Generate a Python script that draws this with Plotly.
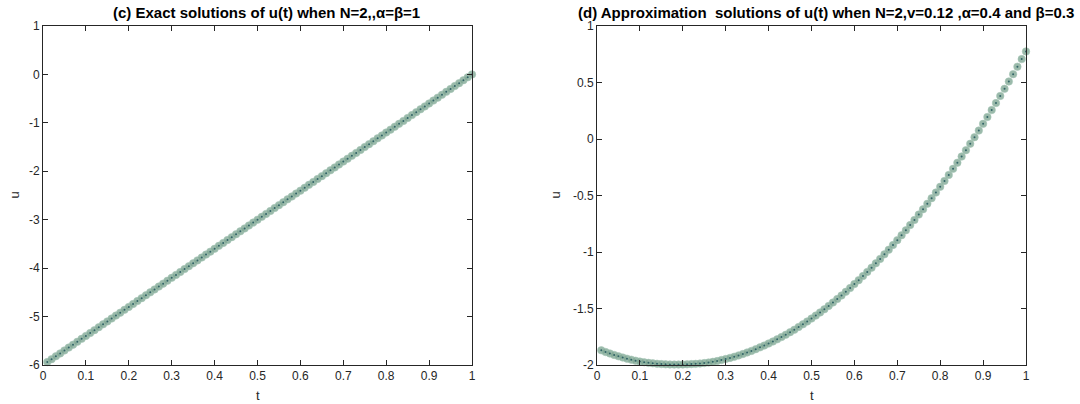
import plotly.graph_objects as go

t_values = [0.01, 0.02, 0.03, 0.04, 0.05, 0.06, 0.07, 0.08, 0.09, 0.10,
            0.11, 0.12, 0.13, 0.14, 0.15, 0.16, 0.17, 0.18, 0.19, 0.20,
            0.21, 0.22, 0.23, 0.24, 0.25, 0.26, 0.27, 0.28, 0.29, 0.30,
            0.31, 0.32, 0.33, 0.34, 0.35, 0.36, 0.37, 0.38, 0.39, 0.40,
            0.41, 0.42, 0.43, 0.44, 0.45, 0.46, 0.47, 0.48, 0.49, 0.50,
            0.51, 0.52, 0.53, 0.54, 0.55, 0.56, 0.57, 0.58, 0.59, 0.60,
            0.61, 0.62, 0.63, 0.64, 0.65, 0.66, 0.67, 0.68, 0.69, 0.70,
            0.71, 0.72, 0.73, 0.74, 0.75, 0.76, 0.77, 0.78, 0.79, 0.80,
            0.81, 0.82, 0.83, 0.84, 0.85, 0.86, 0.87, 0.88, 0.89, 0.90,
            0.91, 0.92, 0.93, 0.94, 0.95, 0.96, 0.97, 0.98, 0.99, 1.00]

u_exact = [-5.94, -5.88, -5.82, -5.76, -5.70, -5.64, -5.58, -5.52, -5.46, -5.40,
           -5.34, -5.28, -5.22, -5.16, -5.10, -5.04, -4.98, -4.92, -4.86, -4.80,
           -4.74, -4.68, -4.62, -4.56, -4.50, -4.44, -4.38, -4.32, -4.26, -4.20,
           -4.14, -4.08, -4.02, -3.96, -3.90, -3.84, -3.78, -3.72, -3.66, -3.60,
           -3.54, -3.48, -3.42, -3.36, -3.30, -3.24, -3.18, -3.12, -3.06, -3.00,
           -2.94, -2.88, -2.82, -2.76, -2.70, -2.64, -2.58, -2.52, -2.46, -2.40,
           -2.34, -2.28, -2.22, -2.16, -2.10, -2.04, -1.98, -1.92, -1.86, -1.80,
           -1.74, -1.68, -1.62, -1.56, -1.50, -1.44, -1.38, -1.32, -1.26, -1.20,
           -1.14, -1.08, -1.02, -0.96, -0.90, -0.84, -0.78, -0.72, -0.66, -0.60,
           -0.54, -0.48, -0.42, -0.36, -0.30, -0.24, -0.18, -0.12, -0.06, 0.00]

u_approx = [-1.870, -1.885, -1.898, -1.911, -1.923, -1.934, -1.944, -1.953, -1.962, -1.970,
            -1.976, -1.981, -1.985, -1.989, -1.992, -1.994, -1.995, -1.996, -1.996, -1.995,
            -1.994, -1.992, -1.990, -1.987, -1.983, -1.978, -1.972, -1.965, -1.956, -1.947,
            -1.937, -1.927, -1.915, -1.903, -1.889, -1.875, -1.860, -1.844, -1.828, -1.810,
            -1.792, -1.773, -1.753, -1.732, -1.710, -1.688, -1.664, -1.640, -1.615, -1.589,
            -1.563, -1.535, -1.507, -1.477, -1.447, -1.416, -1.385, -1.352, -1.319, -1.284,
            -1.249, -1.213, -1.176, -1.139, -1.100, -1.061, -1.021, -0.980, -0.938, -0.895,
            -0.852, -0.808, -0.762, -0.716, -0.669, -0.622, -0.573, -0.524, -0.474, -0.423,
            -0.371, -0.318, -0.264, -0.210, -0.155, -0.099, -0.042, 0.016, 0.075, 0.134,
            0.195, 0.256, 0.318, 0.381, 0.444, 0.509, 0.574, 0.640, 0.707, 0.775]

x_ticks = [0, 0.1, 0.2, 0.3, 0.4, 0.5, 0.6, 0.7, 0.8, 0.9, 1]
x_tick_text = ["0", "0.1", "0.2", "0.3", "0.4", "0.5", "0.6", "0.7", "0.8", "0.9", "1"]
y1_ticks = [-6, -5, -4, -3, -2, -1, 0, 1]
y1_tick_text = ["-6", "-5", "-4", "-3", "-2", "-1", "0", "1"]
y2_ticks = [-2, -1.5, -1, -0.5, 0, 0.5, 1]
y2_tick_text = ["-2", "-1.5", "-1", "-0.5", "0", "0.5", "1"]

title_c = "(c) Exact solutions of u(t) when N=2,,α=β=1"
title_d = "(d) Approximation  solutions of u(t) when N=2,v=0.12 ,α=0.4 and β=0.3"

W, H = 1080, 404
L1, R1 = 43, 472
L2, R2 = 597, 1026
TOP, BOT = 26, 365

face = "rgba(125,165,146,0.78)"
edge = "rgba(165,198,182,0.55)"
dot = "rgba(30,85,90,0.85)"
axcol = "#262626"
font = "Liberation Sans, Arial, sans-serif"

fig = go.Figure()
for xa, ya, yv in [("x", "y", u_exact), ("x2", "y2", u_approx)]:
    fig.add_trace(go.Scatter(x=t_values, y=yv, xaxis=xa, yaxis=ya, mode="markers",
                             marker=dict(symbol="circle", size=7.5, color=face,
                                         line=dict(color=edge, width=1)),
                             cliponaxis=False, showlegend=False, hoverinfo="skip"))
    fig.add_trace(go.Scatter(x=t_values, y=yv, xaxis=xa, yaxis=ya, mode="markers",
                             marker=dict(symbol="circle", size=2, color=dot),
                             cliponaxis=False, showlegend=False, hoverinfo="skip"))

common_x = dict(range=[0, 1], tickvals=x_ticks, ticktext=x_tick_text, ticks="inside",
                ticklen=5, tickcolor=axcol, showline=True, linecolor=axcol, linewidth=1,
                mirror="ticks", showgrid=False, zeroline=False, automargin=False,
                tickfont=dict(family=font, size=12, color=axcol))
common_y = dict(ticks="inside", ticklen=5, tickcolor=axcol, showline=True, linecolor=axcol,
                linewidth=1, mirror="ticks", showgrid=False, zeroline=False, automargin=False,
                tickfont=dict(family=font, size=12, color=axcol))

fig.update_layout(
    width=W, height=H,
    margin=dict(l=0, r=0, t=TOP, b=H - BOT, autoexpand=False),
    paper_bgcolor="white", plot_bgcolor="white",
    xaxis=dict(domain=[L1 / W, R1 / W], anchor="y", **common_x),
    xaxis2=dict(domain=[L2 / W, R2 / W], anchor="y2", **common_x),
    yaxis=dict(domain=[0, 1], anchor="x", range=[-6, 1], tickvals=y1_ticks,
               ticktext=y1_tick_text, **common_y),
    yaxis2=dict(domain=[0, 1], anchor="x2", range=[-2, 1], tickvals=y2_ticks,
                ticktext=y2_tick_text, **common_y),
    annotations=[
        dict(text="<b>" + title_c + "</b>", xref="paper", yref="paper",
             x=266 / W, y=1, xanchor="center", yanchor="bottom", yshift=3,
             showarrow=False, font=dict(family=font, size=15, color="black")),
        dict(text="<b>" + title_d + "</b>", xref="paper", yref="paper",
             x=826 / W, y=1, xanchor="center", yanchor="bottom", yshift=3,
             showarrow=False, font=dict(family=font, size=15, color="black")),
        dict(text="t", xref="paper", yref="paper", x=(L1 + R1) / 2 / W, y=0,
             xanchor="center", yanchor="middle", yshift=-30, showarrow=False,
             borderpad=0, font=dict(family=font, size=13, color=axcol)),
        dict(text="t", xref="paper", yref="paper", x=(L2 + R2) / 2 / W, y=0,
             xanchor="center", yanchor="middle", yshift=-30, showarrow=False,
             borderpad=0, font=dict(family=font, size=13, color=axcol)),
        dict(text="u", xref="paper", yref="paper", x=14 / W, y=0.5, textangle=-90,
             xanchor="center", yanchor="middle", showarrow=False,
             font=dict(family=font, size=13, color=axcol)),
        dict(text="u", xref="paper", yref="paper", x=555 / W, y=0.5, textangle=-90,
             xanchor="center", yanchor="middle", showarrow=False,
             font=dict(family=font, size=13, color=axcol)),
    ],
)

fig.write_html("out.html", config={"displayModeBar": False},
               post_script="document.body.style.margin='0';document.body.style.overflow='hidden';")
